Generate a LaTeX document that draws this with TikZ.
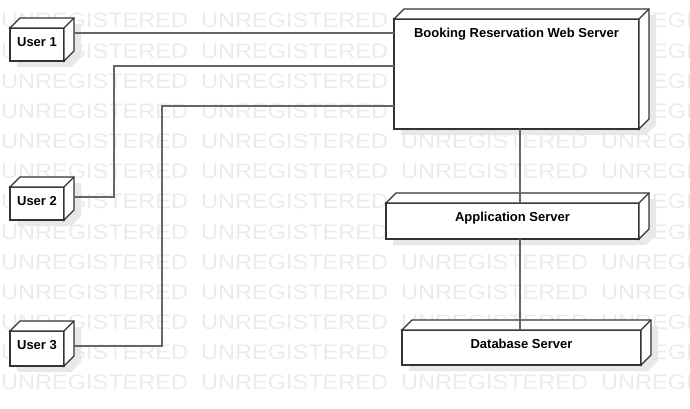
\documentclass[tikz,border=0pt]{standalone}
\usepackage{fontspec}
\setmainfont{Liberation Sans}
\newfontfamily\wmfont[FakeStretch=1.12]{Liberation Sans}
\usepackage{tikz}
\pgfdeclarelayer{bg}
\pgfsetlayers{bg,main}

\begin{document}
\begin{tikzpicture}[x=1pt,y=-1pt,
  dev/.style={draw=black!80, line width=1.3pt, fill=white, outer sep=0pt, inner sep=0pt, anchor=north west,
    label={[anchor=north, yshift=-9pt, inner sep=0pt, font=\bfseries\fontsize{13}{15}\selectfont]north:#1}},
  face/.style={draw=black!80, line width=1.3pt, fill=white},
  conn/.style={draw=black!60, line width=1.1pt},
  wm/.style={text=black!8, font=\wmfont\fontsize{21}{21}\selectfont, anchor=base west, inner sep=0pt}]
\path[use as bounding box] (0,0) rectangle (690,409);
% watermark
\begin{pgfonlayer}{bg}
\foreach \r in {0,...,12}
  \foreach \c in {0,...,3}
    \node[wm] (wm\r-\c) at (1+200*\c, 28+30.15*\r) {UNREGISTERED};
\end{pgfonlayer}
\node[dev=User 1, minimum width=54pt, minimum height=33pt] (user1) at (10,28) {};
\node[dev=User 2, minimum width=54pt, minimum height=33pt] (user2) at (10,187) {};
\node[dev=User 3, minimum width=54pt, minimum height=35pt] (user3) at (10,331) {};
\node[dev=Booking Reservation Web Server, minimum width=245pt, minimum height=110pt] (web) at (394,19) {};
\node[dev=Application Server, minimum width=253pt, minimum height=36pt] (app) at (386,203) {};
\node[dev=Database Server, minimum width=239pt, minimum height=35pt] (db) at (402,330) {};
% 3d sides and shadows
\foreach \n in {user1,user2,user3,web,app,db} {
  \begin{pgfonlayer}{bg}
  \fill[black!9] ([shift={(7,6)}]\n.north west) -- ++(10,-10) -- ([shift={(17,-4)}]\n.north east)
    -- ([shift={(17,-4)}]\n.south east) -- ([shift={(7,6)}]\n.south east) -- ([shift={(7,6)}]\n.south west) -- cycle;
  \end{pgfonlayer}
  \draw[face] (\n.north west) -- ++(10,-10) -- ([shift={(10,-10)}]\n.north east)
    -- ([shift={(10,-10)}]\n.south east) -- (\n.south east) -- (\n.north east) -- cycle;
  \draw[face] (\n.north east) -- ++(10,-10);
}
\coordinate (r1) at ([xshift=10pt]user1.east);
\coordinate (r2) at ([xshift=10pt]user2.east);
\coordinate (r3) at ([xshift=10pt]user3.east);
\coordinate (w1) at ([yshift=41pt]web.west);
\coordinate (w2) at ([yshift=8pt]web.west);
\coordinate (w3) at ([yshift=-32pt]web.west);
\coordinate (v1) at ([xshift=3.5pt]web.south);
\draw[conn] (r1 |- w1) -- (w1);
\draw[conn] ([yshift=6.5pt]r2) -- ++(40,0) |- (w2);
\draw[conn] ([yshift=2.5pt]r3) -- ++(88,0) |- (w3);
\draw[conn] (v1) -- (v1 |- app.north);
\draw[conn] (app.south -| v1) -- (db.north -| v1);
\end{tikzpicture}
\end{document}
